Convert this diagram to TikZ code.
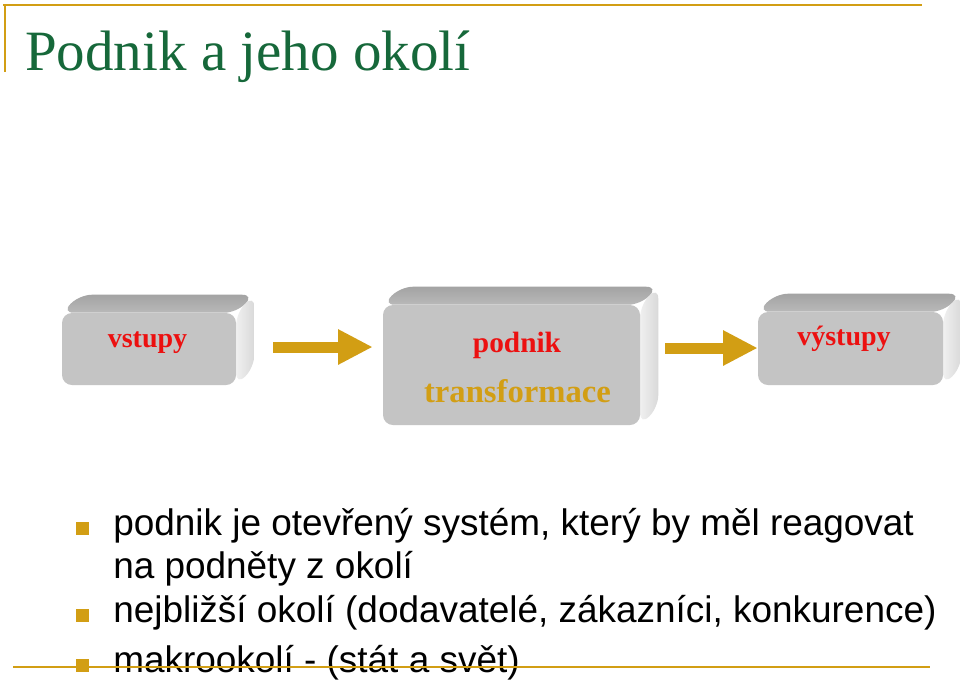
\documentclass[tikz,border=0pt]{standalone}
\usepackage{fontspec}
\setmainfont{Liberation Serif}
\setsansfont{Liberation Sans}
\usetikzlibrary{arrows.meta,calc,backgrounds}

\definecolor{slidegold}{RGB}{210,158,20}
\definecolor{titlegreen}{RGB}{22,104,58}
\definecolor{labelred}{RGB}{236,16,16}
\definecolor{facegray}{RGB}{196,196,196}

\tikzset{
  face/.style={fill=facegray, rounded corners=7.5pt, inner sep=0pt},
  boxlabel/.style={font=\bfseries\fontsize{21}{24}\selectfont, text=labelred, anchor=base, inner sep=0pt},
  blockarrow/.style={draw=slidegold, line width=8.25pt, -{Triangle[length=26pt,width=24.75pt]}},
  goldsquare/.style={fill=slidegold, minimum size=9.75pt, inner sep=0pt},
  bullettext/.style={font=\sffamily\fontsize{27.7}{33}\selectfont, anchor=base west, inner sep=0pt},
  goldrule/.style={draw=slidegold, line width=1.6pt}
}

% top and right side of a box, behind its front face
\newcommand{\extrudebox}[1]{%
  \shade[top color=gray!72, bottom color=gray!55, rounded corners=9pt]
    (#1.north west) -- ++(18,-18) -- ($(#1.north east)+(18,-18)$) -- (#1.north east) -- cycle;
  \shade[left color=gray!12, right color=gray!30, rounded corners=9pt]
    (#1.north east) -- ++(18,-18) -- ($(#1.south east)+(18,-18)$) -- (#1.south east) -- cycle;
}

\begin{document}
\begin{tikzpicture}[x=0.75pt,y=-0.75pt]
\useasboundingbox (0,0) rectangle (960,683);
\begin{scope}[on background layer]
\fill[white] (0,0) rectangle (960,683);
\end{scope}

% title
\draw[goldrule, line width=2.2pt] (3,5) -- (922,5);
\draw[goldrule] (5,5) -- (5,72);
\node[anchor=base west, inner sep=0pt, text=titlegreen, font=\fontsize{42.75}{50}\selectfont] (title) at (25,70) {Podnik a jeho okolí};

% boxes
\node[face, minimum width=130.5pt, minimum height=54pt] (vstupy) at (149,349) {};
\node[face, minimum width=192.75pt, minimum height=90pt] (podnik) at (511.5,365) {};
\node[face, minimum width=138.75pt, minimum height=54.75pt] (vystupy) at (850.5,348.5) {};
\begin{scope}[on background layer]
\extrudebox{vstupy}
\extrudebox{podnik}
\extrudebox{vystupy}
\end{scope}

\node[boxlabel] (vstupylbl) at ($(vstupy.center)+(-1.5,-2)$) {vstupy};
\node[boxlabel, font=\bfseries\fontsize{22}{25}\selectfont] (podniklbl) at ($(podnik.center)+(5.5,-13)$) {podnik};
\node[boxlabel, text=slidegold, font=\bfseries\fontsize{24.5}{28}\selectfont] (translbl) at ($(podnik.center)+(6,37)$) {transformace};
\node[boxlabel] (vystupylbl) at ($(vystupy.center)+(-6.5,-3.5)$) {výstupy};

% arrows
\draw[blockarrow] ($(vstupy.east)+(37,-2)$) -- ($(podnik.west)+(-10,-18)$);
\draw[blockarrow] ($(podnik.east)+(25,-17)$) -- ($(vystupy.west)+(0,-0.5)$);

% bullets
\node[goldsquare] (sq1) at (82.5,528.5) {};
\node[bullettext] (item1) at (113,535) {podnik je otevřený systém, který by měl reagovat};
\node[bullettext] (item1b) at (113,578) {na podněty z okolí};
\node[goldsquare] (sq2) at (82.5,615.5) {};
\node[bullettext] (item2) at (113,622) {nejbližší okolí (dodavatelé, zákazníci, konkurence)};
\node[goldsquare] (sq3) at (82.5,665.5) {};
\node[bullettext] (item3) at (113,672) {makrookolí - (stát a svět)};

\draw[goldrule] (13,667) -- (930,667);
\end{tikzpicture}
\end{document}
